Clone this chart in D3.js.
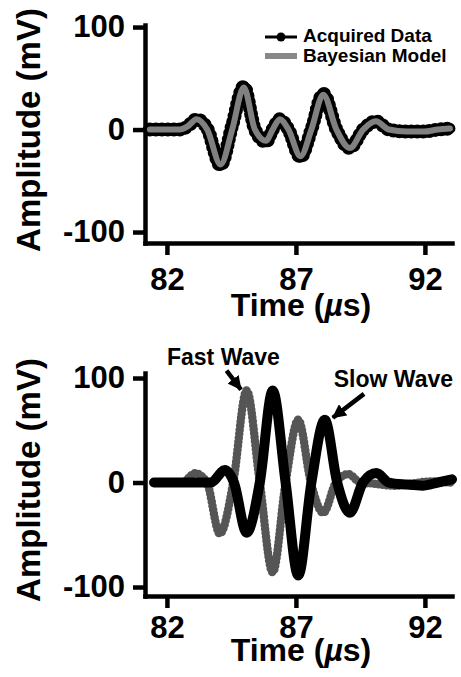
<!DOCTYPE html>
<html>
<head>
<meta charset="utf-8">
<script src="https://cdn.jsdelivr.net/npm/d3@7"></script>
<style>
  body { margin: 0; background: #fff; }
  text { font-family: "Liberation Sans", Arial, Helvetica, sans-serif; font-weight: bold; fill: #000; }
</style>
</head>
<body>
<svg id="chart" width="461" height="677"></svg>
<script>
// ---- data (time in µs, amplitude in mV) ----
const timeTicks = [82, 87, 92];
const ampTicks = [-100, 0, 100];

// top panel: acquired trace vs bayesian model
const timeTop  = [81.34, 82.5, 82.8, 83.15, 83.56, 84.08, 84.53, 84.98, 85.41, 85.84, 86.1, 86.38, 86.71, 87.18, 87.6, 88.06, 88.57, 89.09, 89.61, 90.1, 90.6, 91.3, 91.95, 92.5, 92.97];
const acquired = [0, 0, 3, 10, 1, -35, 4, 42, 0, -12, 0, 10, 0, -27, 0, 35, 0, -18, 0, 8, 0, -2, -2, 0, 1];
const model    = [0, 0, 3, 10, 0, -34, 0, 41, 0, -11, 0, 10, 0, -26, 0, 34, 0, -18, 0, 8, 0, -2, -2, 0, 1];

// bottom panel: separated fast / slow waves
const fastTime = [81.5, 82.6, 83.09, 83.55, 84.05, 84.57, 85.09, 85.6, 86.1, 86.6, 87.09, 87.58, 88.06, 88.55, 89.03, 89.5, 90.0, 90.8, 91.5, 92.2, 93.0];
const fastAmp  = [0, 0, 9, 0, -49, 0, 88, 0, -86, 0, 60, 0, -29, 0, 8, 0, -1, -3, -1, 1, 0];
const slowTime = [81.5, 83.7, 84.25, 84.6, 85.09, 85.6, 86.1, 86.6, 87.09, 87.6, 88.12, 88.6, 89.09, 89.6, 90.12, 90.6, 91.3, 91.9, 92.5, 93.05];
const slowAmp  = [0, 0, 12, 0, -48, 0, 88, 0, -89, 0, 60, 0, -29, 0, 9, 0, -2, -3, 0, 3];

const legendLabels = ["Acquired Data", "Bayesian Model"];
// annotations: [label, label t, label amp, arrow tail t, tail amp, tip t, tip amp]
const notes = [
  ["Fast Wave", 84.19, 112.4, 84.31, 107, 84.87, 89],
  ["Slow Wave", 90.78, 91.7, 89.64, 84.8, 88.43, 62]
];

const svg = d3.select("#chart");

const x = d3.scaleLinear().domain([81.15, 93.05]).range([145, 452]);

const panels = [
  { y: d3.scaleLinear().domain([-110.7, 102]).range([243, 25]), labPad: 13, titleY: 316, labelCy: 130 },
  { y: d3.scaleLinear().domain([-108.6, 104.8]).range([596, 373]), labPad: 8, titleY: 661, labelCy: 480 }
];

const zip = (t, a) => t.map((d, i) => [d, a[i]]);

function drawAxes(p) {
  const gx = svg.append("g")
    .attr("transform", `translate(0,${p.y.range()[0]})`)
    .call(d3.axisBottom(x).tickValues(timeTicks).tickSize(12).tickSizeOuter(0)
      .tickPadding(p.labPad).tickFormat(d => String(d)));
  const gy = svg.append("g")
    .attr("transform", `translate(${x.range()[0]},0)`)
    .call(d3.axisLeft(p.y).tickValues(ampTicks).tickSize(12).tickSizeOuter(0)
      .tickPadding(8).tickFormat(d => String(d)));

  [gx, gy].forEach(g => {
    g.select(".domain").attr("stroke", "#000").attr("stroke-width", 4.5).attr("stroke-linecap", "square");
    g.selectAll(".tick line").attr("stroke", "#000").attr("stroke-width", 4.5);
    g.selectAll(".tick text")
      .style("font-family", "'Liberation Sans', Arial, sans-serif")
      .style("font-weight", "bold")
      .style("font-size", "31px")
      .attr("fill", "#000");
  });

  // axis titles
  const t = svg.append("text")
    .attr("x", 301).attr("y", p.titleY)
    .attr("text-anchor", "middle")
    .style("font-size", "32px");
  t.append("tspan").text("Time (");
  t.append("tspan").attr("font-style", "italic").text("\u00b5");
  t.append("tspan").text("s)");

  svg.append("text")
    .attr("transform", `translate(40,${p.labelCy}) rotate(-90)`)
    .attr("text-anchor", "middle")
    .style("font-size", "33px")
    .text("Amplitude (mV)");
}

panels.forEach(drawAxes);

// ---- top panel ----
const pTop = panels[0];
const lineTop = d3.line().x(d => x(d[0])).y(d => pTop.y(d[1])).curve(d3.curveMonotoneX);

// acquired data: black beaded line
svg.append("path")
  .attr("d", lineTop(zip(timeTop, acquired)))
  .attr("fill", "none").attr("stroke", "#000").attr("stroke-width", 11)
  .attr("stroke-linecap", "round").attr("stroke-linejoin", "round");
svg.append("path")
  .attr("d", lineTop(zip(timeTop, acquired)))
  .attr("fill", "none").attr("stroke", "#000").attr("stroke-width", 14)
  .attr("stroke-linecap", "round").attr("stroke-dasharray", "0 6");
// model
svg.append("path")
  .attr("d", lineTop(zip(timeTop, model)))
  .attr("fill", "none").attr("stroke", "#808080").attr("stroke-width", 6)
  .attr("stroke-linecap", "round").attr("stroke-linejoin", "round");

// legend
const lg = svg.append("g");
lg.append("line").attr("x1", 265).attr("x2", 297).attr("y1", 37).attr("y2", 37)
  .attr("stroke", "#000").attr("stroke-width", 3);
lg.append("circle").attr("cx", 281).attr("cy", 37).attr("r", 4.5).attr("fill", "#000");
lg.append("line").attr("x1", 265).attr("x2", 297).attr("y1", 56).attr("y2", 56)
  .attr("stroke", "#888").attr("stroke-width", 6);
lg.selectAll("text.leg").data(legendLabels).join("text")
  .attr("class", "leg")
  .attr("x", 303).attr("y", (d, i) => 42 + i * 20)
  .style("font-size", "19px")
  .text(d => d);

// ---- bottom panel ----
const pBot = panels[1];
const lineBot = d3.line().x(d => x(d[0])).y(d => pBot.y(d[1])).curve(d3.curveMonotoneX);

// fast wave: grey beaded
svg.append("path")
  .attr("d", lineBot(zip(fastTime, fastAmp)))
  .attr("fill", "none").attr("stroke", "#777").attr("stroke-width", 6)
  .attr("stroke-linecap", "round").attr("stroke-linejoin", "round");
svg.append("path")
  .attr("d", lineBot(zip(fastTime, fastAmp)))
  .attr("fill", "none").attr("stroke", "#555").attr("stroke-width", 8.5)
  .attr("stroke-linecap", "round").attr("stroke-dasharray", "0 4");

// slow wave: solid black
svg.append("path")
  .attr("d", lineBot(zip(slowTime, slowAmp)))
  .attr("fill", "none").attr("stroke", "#000").attr("stroke-width", 10)
  .attr("stroke-linecap", "round").attr("stroke-linejoin", "round");

// annotations
svg.append("defs").append("marker")
  .attr("id", "head").attr("markerUnits", "userSpaceOnUse")
  .attr("viewBox", "0 0 14 14").attr("refX", 13).attr("refY", 7)
  .attr("markerWidth", 14).attr("markerHeight", 14).attr("orient", "auto")
  .append("path").attr("d", "M0,0L14,7L0,14Z").attr("fill", "#000");

notes.forEach(n => {
  svg.append("text")
    .attr("x", x(n[1])).attr("y", pBot.y(n[2]))
    .attr("text-anchor", "middle")
    .style("font-size", "23px")
    .text(n[0]);
  svg.append("line")
    .attr("x1", x(n[3])).attr("y1", pBot.y(n[4]))
    .attr("x2", x(n[5])).attr("y2", pBot.y(n[6]))
    .attr("stroke", "#000").attr("stroke-width", 4.5)
    .attr("marker-end", "url(#head)");
});
</script>
</body>
</html>
